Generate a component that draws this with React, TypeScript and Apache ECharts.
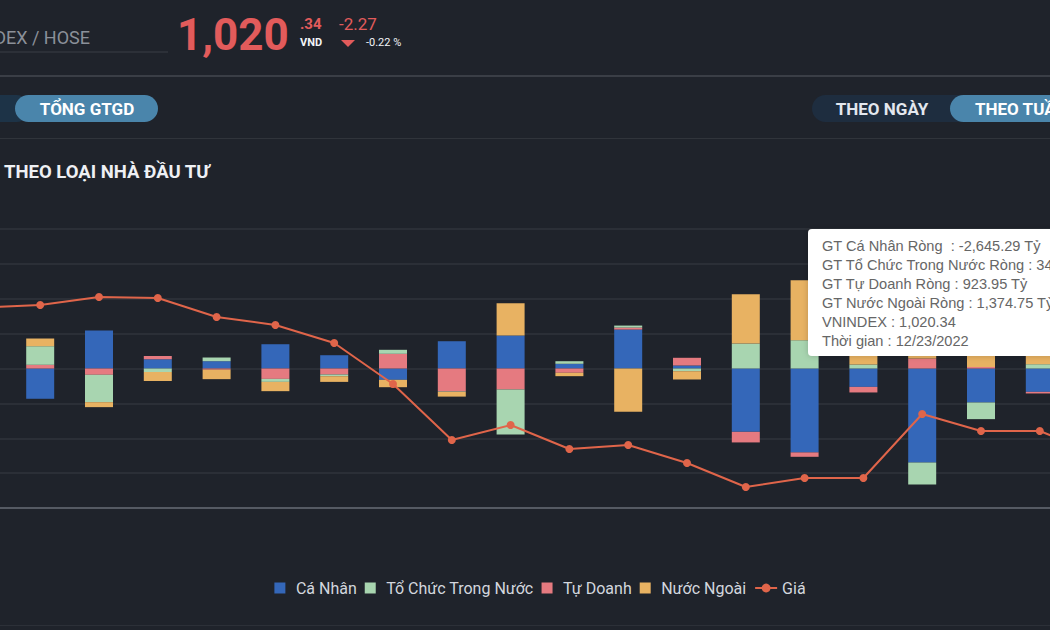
import React, { useEffect, useRef } from "react";
import * as echarts from "echarts";

// Weekly net trading value by investor type (Tỷ VND) and VNINDEX close
const weeks = [
  "08/12/2022", "08/19/2022", "08/26/2022", "09/02/2022", "09/09/2022",
  "09/16/2022", "09/23/2022", "09/30/2022", "10/07/2022", "10/14/2022",
  "10/21/2022", "10/28/2022", "11/04/2022", "11/11/2022", "11/18/2022",
  "11/25/2022", "12/02/2022", "12/09/2022", "12/16/2022", "12/23/2022",
];
const caNhan = [-650, -868, 1089, 266, 209, 696, 381, -324, 782, 945, 135, 1117, 86, -1816, -2406, -527, -2693, -974, -670, -2645.29];
const tuDoanh = [120, 106, -180, 95, -34, -298, -172, 421, -659, -602, -123, 57, 221, -304, -126, -160, 287, 43, -46, 923.95];
const toChuc = [350, 533, -785, -97, 106, -86, -49, 115, -12, -1289, 74, 57, -77, 716, 811, 115, -630, -478, 123, 346.59];
const nuocNgoai = [180, 221, -143, -258, -272, -266, -163, -212, -135, 925, -97, -1241, -238, 1412, 1719, 572, 3036, 1409, 593, 1374.75];
const gia = [1241.7, 1245.6, 1257.6, 1256.1, 1227.5, 1215.5, 1188.4, 1126.7, 1042.4, 1064.9, 1028.8, 1034.8, 1007.7, 971.6, 985.2, 985.2, 1081.5, 1055.9, 1055.9, 1020.34];

const barLegend = ["Cá Nhân", "Tổ Chức Trong Nước", "Tự Doanh", "Nước Ngoài"];
const lineLegend = "Giá";

const COLORS = {
  bg: "#1f232b",
  blue: "#3467b9",
  green: "#a8d5b0",
  pink: "#e57a80",
  orange: "#e8b262",
  line: "#e0654a",
  red: "#e25b5b",
  pill: "#4a85ab",
  pillDark: "#1e2d3f",
};

const FONT = "Roboto, 'Noto Sans', sans-serif";
const OFF = 108; // canvas x of the visible page's left edge
const CANVAS_W = 1296;
const sx = (x: number) => x + OFF;

const fmt = (v: number) =>
  v.toLocaleString("en-US", { minimumFractionDigits: 2, maximumFractionDigits: 2 });

export default function App() {
  const ref = useRef<HTMLDivElement>(null);

  useEffect(() => {
    if (!ref.current) return;
    const chart = echarts.init(ref.current, undefined, { renderer: "svg" });

    const tipIdx = weeks.length - 1;
    const tipLines = [
      `GT Cá Nhân Ròng  : ${fmt(caNhan[tipIdx])} Tỷ`,
      `GT Tổ Chức Trong Nước Ròng : ${fmt(toChuc[tipIdx])} Tỷ`,
      `GT Tự Doanh Ròng : ${fmt(tuDoanh[tipIdx])} Tỷ`,
      `GT Nước Ngoài Ròng : ${fmt(nuocNgoai[tipIdx])} Tỷ`,
      `VNINDEX : ${fmt(gia[tipIdx])}`,
      `Thời gian : ${weeks[tipIdx]}`,
    ];

    const bar = (name: string, data: number[], color: string) => ({
      name,
      type: "bar",
      stack: "net",
      data,
      barWidth: 28,
      itemStyle: { color },
    });

    const text = (t: string, x: number, y: number, size: number, fill: string, opts: any = {}) => ({
      type: "text",
      x,
      y,
      z: 12,
      style: {
        text: t,
        fill,
        fontSize: size,
        fontFamily: FONT,
        align: "left",
        verticalAlign: "middle",
        ...opts,
      },
    });

    const option: any = {
      animation: false,
      backgroundColor: COLORS.bg,
      grid: { left: 60, right: 60, top: 229, height: 279 },
      legend: {
        data: [
          ...barLegend.map((name) => ({ name, icon: "path://M0,0h10v10h-10z" })),
          { name: lineLegend },
        ],
        left: "center",
        top: 575,
        itemWidth: 22,
        itemHeight: 11,
        itemGap: 8,
        textStyle: { color: "#d3d7de", fontSize: 16, fontFamily: FONT },
      },
      xAxis: {
        type: "category",
        data: weeks,
        axisLine: { onZero: false, lineStyle: { color: "#555a63", width: 2 } },
        axisTick: { show: false },
        axisLabel: { show: false },
      },
      yAxis: [
        {
          type: "value",
          min: -4000,
          max: 4000,
          interval: 1000,
          axisLabel: { show: false },
          axisLine: { show: false },
          splitLine: { lineStyle: { color: "#2b2f37", width: 2 } },
        },
        {
          type: "value",
          min: 940,
          max: 1360,
          show: false,
          splitLine: { show: false },
        },
      ],
      series: [
        bar("Cá Nhân", caNhan, COLORS.blue),
        bar("Tự Doanh", tuDoanh, COLORS.pink),
        bar("Tổ Chức Trong Nước", toChuc, COLORS.green),
        bar("Nước Ngoài", nuocNgoai, COLORS.orange),
        {
          name: lineLegend,
          type: "line",
          yAxisIndex: 1,
          data: gia,
          symbol: "circle",
          symbolSize: 8,
          z: 5,
          lineStyle: { color: COLORS.line, width: 2 },
          itemStyle: { color: COLORS.line },
        },
      ],
      graphic: [
        // header: index name and price
        text("VNINDEX / HOSE", sx(90), 37, 18, "#8b9099", { align: "right" }),
        { type: "line", z: 10, shape: { x1: sx(0) - 20, y1: 52, x2: sx(168), y2: 52 }, style: { stroke: "#3a3e46", lineWidth: 1 } },
        text("1,020", sx(177), 35, 44, COLORS.red, { fontWeight: "bold" }),
        text(".34", sx(300), 24, 15, COLORS.red, { fontWeight: "bold" }),
        text("VND", sx(300), 42, 11, "#f2f4f7", { fontWeight: "bold" }),
        text("-2.27", sx(339), 24, 17, COLORS.red),
        { type: "polygon", z: 10, shape: { points: [[sx(341), 40], [sx(355), 40], [sx(348), 47]] }, style: { fill: COLORS.red } },
        text("-0.22 %", sx(366), 42, 11, "#f2f4f7"),
        { type: "rect", z: 10, shape: { x: 0, y: 75, width: CANVAS_W, height: 2 }, style: { fill: "#3a3e46" } },

        // tab buttons
        { type: "rect", z: 10, shape: { x: sx(-60), y: 95, width: 90, height: 27, r: 13.5 }, style: { fill: "#1d3347" } },
        { type: "rect", z: 11, shape: { x: sx(15), y: 95, width: 143, height: 27, r: 13.5 }, style: { fill: COLORS.pill } },
        text("TỔNG GTGD", sx(87), 109, 17, "#ffffff", { fontWeight: "bold", align: "center" }),
        { type: "rect", z: 10, shape: { x: sx(812), y: 95, width: 200, height: 27, r: 13.5 }, style: { fill: COLORS.pillDark } },
        text("THEO NGÀY", sx(882), 109, 17, "#e3e7ee", { fontWeight: "bold", align: "center" }),
        { type: "rect", z: 11, shape: { x: sx(950), y: 95, width: 130, height: 27, r: 13.5 }, style: { fill: COLORS.pill } },
        text("THEO TUẦN", sx(975), 109, 17, "#ffffff", { fontWeight: "bold" }),
        { type: "rect", z: 10, shape: { x: 0, y: 138, width: CANVAS_W, height: 1 }, style: { fill: "#30343b" } },

        // section title
        text("THEO LOẠI NHÀ ĐẦU TƯ", sx(4), 172, 18.5, "#eef0f4", { fontWeight: "bold" }),
        { type: "rect", z: 10, shape: { x: 0, y: 625, width: CANVAS_W, height: 1 }, style: { fill: "#2c3038" } },

        // hover tooltip for the latest week
        {
          type: "group",
          z: 100,
          children: [
            {
              type: "rect", z: 100,
              shape: { x: sx(808), y: 229, width: 310, height: 127, r: 4 },
              style: { fill: "#ffffff", shadowBlur: 6, shadowColor: "rgba(0,0,0,0.2)" },
            },
            ...tipLines.map((t, i) => ({
              type: "text", z: 101,
              x: sx(822), y: 246 + i * 19,
              style: { text: t, fill: "#666666", fontSize: 14.6, fontFamily: "'Liberation Sans', Arial, sans-serif", align: "left", verticalAlign: "middle" },
            })),
          ],
        },
      ],
    };

    chart.setOption(option);
    return () => chart.dispose();
  }, []);

  return (
    <div style={{ position: "fixed", left: 0, top: 0, width: 1050, height: 630, overflow: "hidden", background: COLORS.bg }}>
      <div ref={ref} style={{ position: "absolute", left: -OFF, top: 0, width: CANVAS_W, height: 630 }} />
    </div>
  );
}
